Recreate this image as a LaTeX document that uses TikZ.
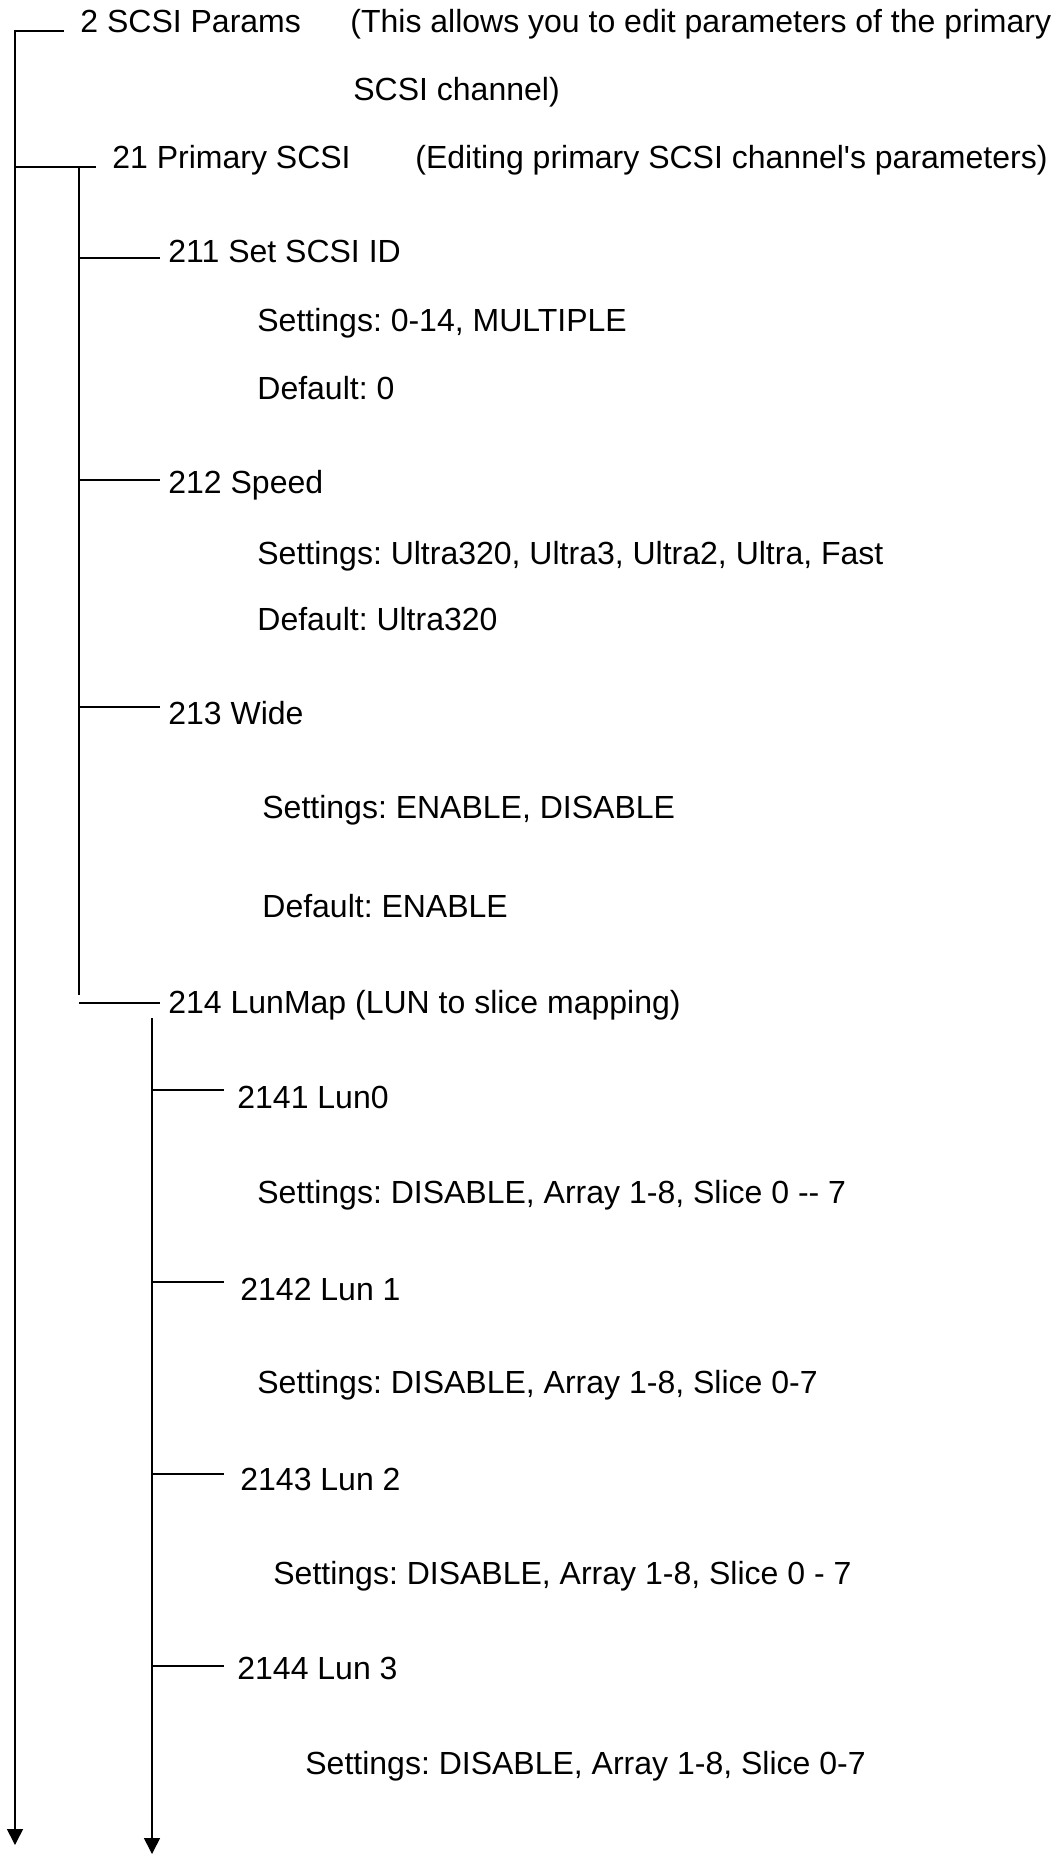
\documentclass[tikz,border=0pt]{standalone}
\usepackage{fontspec}
\setmainfont{Liberation Sans}
\usetikzlibrary{arrows.meta}
\frenchspacing

\tikzset{
  menu/.style={anchor=base west,inner sep=0pt,font=\fontsize{16}{19}\selectfont},
  tree/.style={line width=0.8pt},
  down/.style={tree,-{Triangle[width=8pt,length=8pt]}}
}

\begin{document}
\begin{tikzpicture}[x=0.5pt,y=-0.5pt]
\useasboundingbox (0,0) rectangle (1056,1854);
\node[menu] (p2) at (80,32) {2 SCSI Params};
\node[menu] (p2a) at (350,32) {(This allows you to edit parameters of the primary};
\node[menu] (p2b) at (353,100) {SCSI channel)};
\node[menu] (p21) at (112,168) {21 Primary SCSI};
\node[menu] (p21a) at (415,168) {(Editing primary SCSI channel\textquotesingle s parameters)};
\node[menu] (p211) at (168,262) {211 Set SCSI ID};
\node[menu] (s211) at (257,331) {Settings: 0-14, MULTIPLE};
\node[menu] (d211) at (257,399) {Default: 0};
\node[menu] (p212) at (168,493) {212 Speed};
\node[menu] (s212) at (257,564) {Settings: Ultra320, Ultra3, Ultra2, Ultra, Fast};
\node[menu] (d212) at (257,630) {Default: Ultra320};
\node[menu] (p213) at (168,724) {213 Wide};
\node[menu] (s213) at (262,818) {Settings: ENABLE, DISABLE};
\node[menu] (d213) at (262,917) {Default: ENABLE};
\node[menu] (p214) at (168,1013) {214 LunMap (LUN to slice mapping)};
\node[menu] (p2141) at (237,1108) {2141 Lun0};
\node[menu] (s2141) at (257,1203) {Settings: DISABLE, Array 1-8, Slice 0 -{}- 7};
\node[menu] (p2142) at (240,1300) {2142 Lun 1};
\node[menu] (s2142) at (257,1393) {Settings: DISABLE, Array 1-8, Slice 0-7};
\node[menu] (p2143) at (240,1490) {2143 Lun 2};
\node[menu] (s2143) at (273,1584) {Settings: DISABLE, Array 1-8, Slice 0 - 7};
\node[menu] (p2144) at (237,1679) {2144 Lun 3};
\node[menu] (s2144) at (305,1774) {Settings: DISABLE, Array 1-8, Slice 0-7};

\coordinate (b2) at (64,31);
\coordinate (t2) at (15,31);
\coordinate (t2end) at (15,1845);
\coordinate (t21) at (15,167);
\coordinate (b21) at (96,167);
\coordinate (u21) at (79,167);
\coordinate (u21end) at (79,995);
\coordinate (u211) at (79,258);
\coordinate (b211) at (160,258);
\coordinate (u212) at (79,480);
\coordinate (b212) at (160,480);
\coordinate (u213) at (79,707);
\coordinate (b213) at (160,707);
\coordinate (u214) at (79,1003);
\coordinate (b214) at (160,1003);
\coordinate (v214) at (152,1018);
\coordinate (v214end) at (152,1854);
\coordinate (v2141) at (152,1090);
\coordinate (b2141) at (224,1090);
\coordinate (v2142) at (152,1282);
\coordinate (b2142) at (224,1282);
\coordinate (v2143) at (152,1474);
\coordinate (b2143) at (224,1474);
\coordinate (v2144) at (152,1666);
\coordinate (b2144) at (224,1666);

\draw[down] (b2) -- (t2) -- (t2end);
\draw[tree] (t21) -- (b21);
\draw[tree] (u21) -- (u21end);
\draw[tree] (u211) -- (b211);
\draw[tree] (u212) -- (b212);
\draw[tree] (u213) -- (b213);
\draw[tree] (u214) -- (b214);
\draw[down] (v214) -- (v214end);
\draw[tree] (v2141) -- (b2141);
\draw[tree] (v2142) -- (b2142);
\draw[tree] (v2143) -- (b2143);
\draw[tree] (v2144) -- (b2144);
\end{tikzpicture}
\end{document}
